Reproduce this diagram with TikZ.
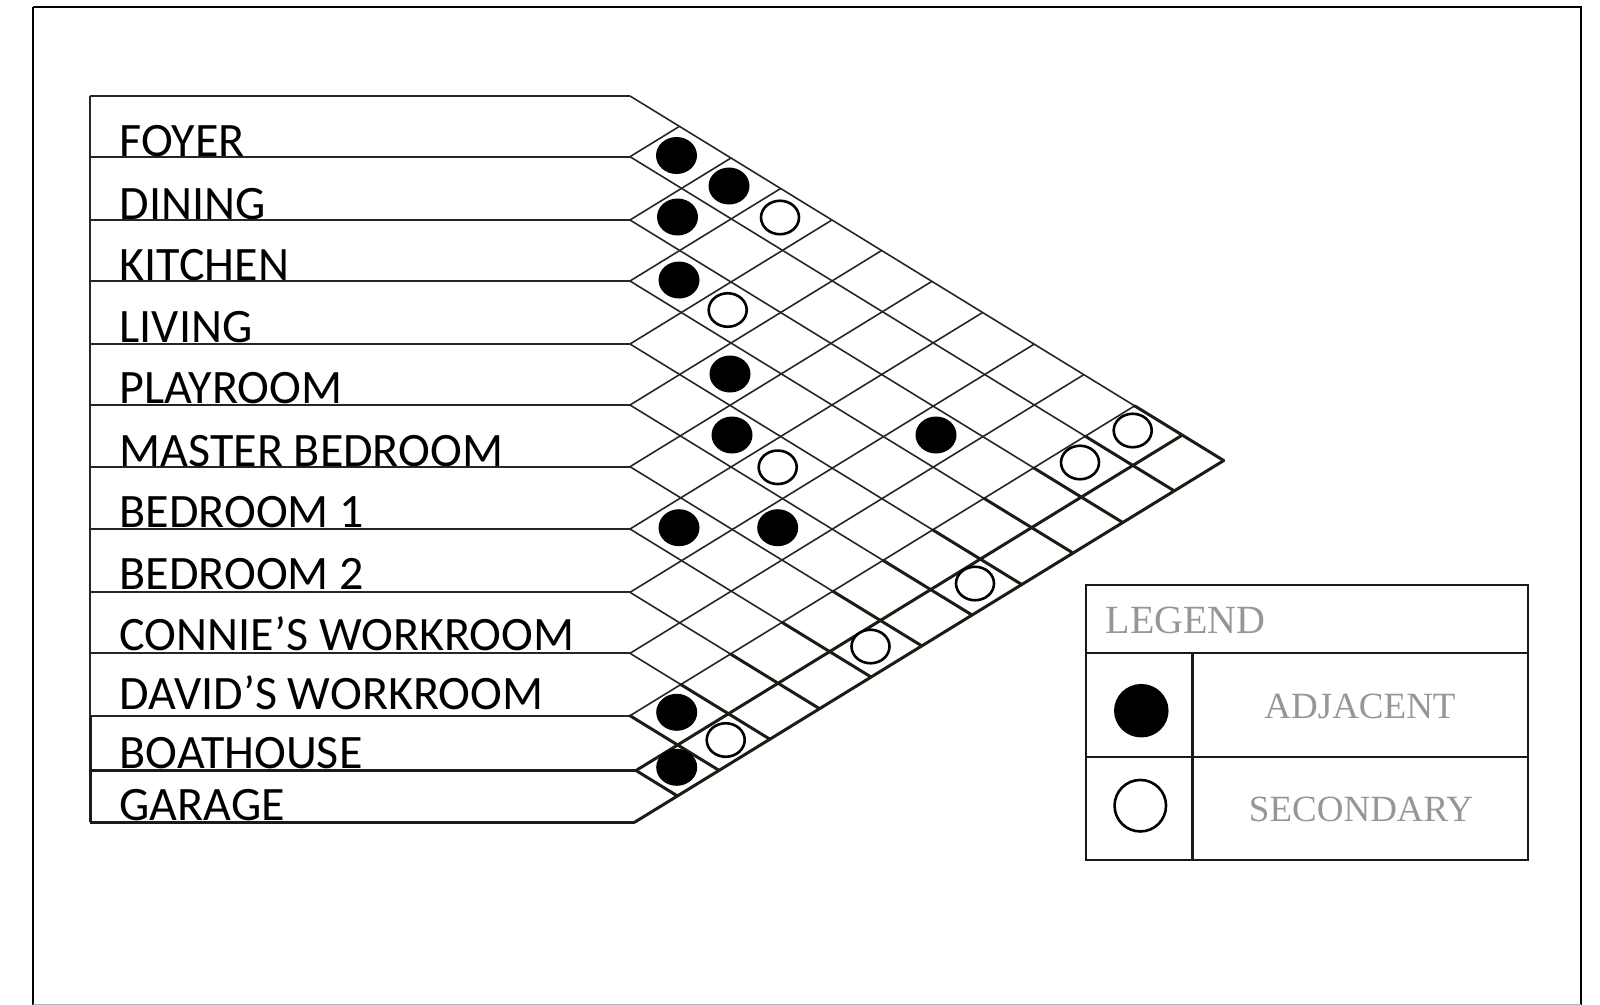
\documentclass[tikz,border=0pt]{standalone}
\usepackage{fontspec}
\newfontfamily\lab{Carlito}
\newfontfamily\leg{Liberation Serif}
\usetikzlibrary{shapes.geometric}
\definecolor{legendgray}{RGB}{150,150,150}
\definecolor{thickcol}{RGB}{28,28,20}
\begin{document}
\begin{tikzpicture}[x=1pt,y=-1pt,
  frameline/.style={line width=2.2pt, draw=black},
  rowline/.style={line width=1.9pt, draw=black!85},
  gridthin/.style={line width=1.6pt, draw=black!85},
  thickline/.style={line width=3pt, draw=thickcol, line cap=round},
  legline/.style={line width=2.4pt, draw=black!90},
  adj/.style={ellipse, fill=black, minimum width=41pt, minimum height=37pt, inner sep=0pt},
  sec/.style={ellipse, draw=black, line width=2.6pt, fill=white, minimum width=38pt, minimum height=33.5pt, inner sep=0pt},
  roomlabel/.style={anchor=base west, inner sep=0pt, font={\fontsize{48}{51}\selectfont\lab}},
  legtext/.style={inner sep=0pt, text=legendgray},
]
\useasboundingbox (0,0) rectangle (1600,1004);
\draw[frameline] (33,7) -- (1581,7) -- (1581,1004.6) (33,7) -- (33,1004.6);
\draw[line width=1.2pt, draw=black!30] (33,1004.2) -- (1581,1004.2);

\def\ys{{96,156.7,220,281,344,405,466.7,529,592.3,653.3,715.7,770.5,822}}
\def\xs{{630,630,630,630,630,630,630,630,630,630,630,636,635}}
\def\sl{0.614}

\foreach \k in {0,...,12} {
  \pgfmathsetmacro\xa{\xs[\k]}
  \pgfmathsetmacro\ya{\ys[\k]}
  \coordinate (p\k) at (\xa,\ya);
  \coordinate (l\k) at (90,\ya);
  \pgfmathsetmacro\xe{(822-\ya)/(2*\sl)+(\xa+635)/2}
  \pgfmathsetmacro\ye{\ya+\sl*(\xe-\xa)}
  \coordinate (de\k) at (\xe,\ye);
  \pgfmathsetmacro\xm{(715.7-\ya)/(2*\sl)+(\xa+630)/2}
  \pgfmathsetmacro\ym{\ya+\sl*(\xm-\xa)}
  \coordinate (dm\k) at (\xm,\ym);
  \pgfmathsetmacro\xu{(\ya-96)/(2*\sl)+(\xa+630)/2}
  \pgfmathsetmacro\yu{\ya-\sl*(\xu-\xa)}
  \coordinate (ue\k) at (\xu,\yu);
}

% row lines
\foreach \k in {0,...,10} \draw[rowline] (l\k) -- (p\k);
\draw[thickline, line cap=butt] (l11) -- (p11);
\draw[thickline, line cap=butt] (l12) -- (p12);
\draw[rowline] (l0) -- (l10);
\draw[thickline, line cap=butt] (l10) -- (l12);

% thin diamond grid
\foreach \k in {0,...,9} \draw[gridthin] (p\k) -- (dm\k);
\foreach \k in {1,...,10} \draw[gridthin] (p\k) -- (ue\k);

% thick lower cells
\foreach \k in {0,...,10} \draw[thickline] (dm\k) -- (de\k);
\draw[thickline] (p11) -- (de11);
\draw[thickline] (p11) -- (ue11);
\draw[thickline] (p12) -- (ue12);

% adjacency marks
\node[adj] (c0x1) at (676.5,155.5) {};
\node[adj] (c0x2) at (729,186) {};
\node[adj] (c1x2) at (677.5,217) {};
\node[sec] (c0x3) at (780,217.5) {};
\node[adj] (c2x3) at (679,280) {};
\node[sec] (c2x4) at (727.7,310) {};
\node[adj] (c3x5) at (730,374) {};
\node[adj] (c4x6) at (732,435) {};
\node[adj] (c2x8) at (936,435) {};
\node[sec] (c4x7) at (777.7,467.3) {};
\node[adj] (c6x7) at (679,527.7) {};
\node[adj] (c5x8) at (777.7,527.7) {};
\node[sec] (c0x10) at (1132.7,430.5) {};
\node[sec] (c1x10) at (1080,462.5) {};
\node[sec] (c4x11) at (975,583.5) {};
\node[sec] (c6x11) at (870.5,646.5) {};
\node[adj] (c9x10) at (676.7,712.3) {};
\node[sec] (c9x11) at (725.7,740) {};
\node[adj] (c10x11) at (676.7,767.3) {};

% room labels
\node[roomlabel] (foyer) at (119.5,156.5) {FOYER};
\node[roomlabel] (dining) at (119.5,219) {DINING};
\node[roomlabel] (kitchen) at (119.5,280.5) {KITCHEN};
\node[roomlabel] (living) at (119.5,342) {LIVING};
\node[roomlabel] (playroom) at (119.5,403.5) {PLAYROOM};
\node[roomlabel] (master) at (119.5,466) {MASTER BEDROOM};
\node[roomlabel] (bed1) at (119.5,527.5) {BEDROOM 1};
\node[roomlabel] (bed2) at (119.5,589) {BEDROOM 2};
\node[roomlabel] (connie) at (119.5,650.7) {CONNIE’S WORKROOM};
\node[roomlabel] (david) at (119.5,709.5) {DAVID’S WORKROOM};
\node[roomlabel] (boat) at (119.5,768.5) {BOATHOUSE};
\node[roomlabel] (garage) at (119.5,820) {GARAGE};

% legend
\draw[legline] (1086,585) rectangle (1528,860);
\draw[legline] (1086,652.7) -- (1528,652.7);
\draw[legline] (1086,756.7) -- (1528,756.7);
\draw[legline] (1192.3,652.7) -- (1192.3,860);
\node[legtext, anchor=base west, font={\fontsize{40}{44}\selectfont\leg}] (legtitle) at (1105.5,633.3) {LEGEND};
\node[ellipse, fill=black, minimum width=54.5pt, minimum height=53.5pt, inner sep=0pt] (legadj) at (1141.3,710.7) {};
\node[ellipse, draw=black, line width=2.6pt, fill=white, minimum width=51.5pt, minimum height=51.5pt, inner sep=0pt] (legsec) at (1140.3,805.7) {};
\node[legtext, anchor=base, font={\fontsize{37}{40}\selectfont\leg}] (adjtext) at (1360,718.3) {ADJACENT};
\node[legtext, anchor=base, font={\fontsize{37}{40}\selectfont\leg}] (sectext) at (1361,821.7) {SECONDARY};
\end{tikzpicture}
\end{document}
